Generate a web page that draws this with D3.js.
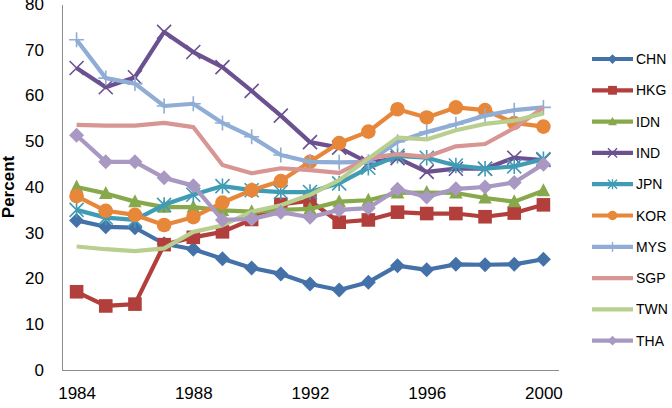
<!DOCTYPE html>
<html lang="en"><head>
<meta charset="utf-8">
<title>Percent by economy, 1984-2000</title>
<script type="text/javascript" src="https://d3js.org/d3.v7.min.js"></script>
<style type="text/css">
	body { margin: 0; background: #fff; }
	.axis path { fill: none; stroke: #8c8c8c; stroke-width: 1.5px; shape-rendering: crispEdges; }
	.axis line { display: none; }
	.axis text { font-family: "Liberation Sans", Arial, sans-serif; font-size: 17px; fill: #000; }
</style>
<script>
	const years = ["1984","1985","1986","1987","1988","1989","1990","1991","1992","1993","1994","1995","1996","1997","1998","1999","2000"];
	const yTicks = [0, 10, 20, 30, 40, 50, 60, 70, 80];
	const xTicks = ["1984", "1988", "1992", "1996", "2000"];

	const CHN = [32.7, 31.3, 31.1, 27.6, 26.4, 24.3, 22.3, 21.0, 18.8, 17.5, 19.2, 22.8, 21.9, 23.1, 23.0, 23.1, 24.2];
	const HKG = [17.1, 14.0, 14.4, 27.4, 29.0, 30.2, 32.9, 36.2, 37.0, 32.3, 32.8, 34.5, 34.2, 34.2, 33.5, 34.3, 36.1];
	const IDN = [40.0, 38.6, 36.8, 35.6, 35.6, 34.9, 34.6, 35.0, 35.2, 36.8, 37.1, 38.7, 38.8, 38.7, 37.6, 36.8, 39.2];
	const IND = [66.0, 61.8, 64.0, 73.9, 69.5, 66.2, 61.0, 55.6, 49.8, 48.6, 45.3, 46.3, 43.3, 44.0, 44.0, 46.4, 45.9];
	const JPN = [35.0, 33.3, 32.8, 36.1, 38.3, 40.2, 39.3, 38.9, 38.9, 40.8, 44.2, 46.8, 46.4, 44.7, 44.0, 44.5, 46.1];
	const KOR = [38.0, 34.8, 33.9, 31.7, 33.4, 36.6, 39.3, 41.3, 45.5, 49.6, 52.1, 57.0, 55.2, 57.4, 56.8, 54.0, 53.2];
	const MYS = [72.2, 63.8, 62.6, 57.7, 58.2, 54.0, 51.0, 47.0, 45.5, 45.4, 45.5, 49.9, 52.0, 53.7, 55.6, 56.8, 57.4];
	const SGP = [53.6, 53.4, 53.4, 54.0, 53.1, 44.8, 43.0, 44.1, 43.7, 43.1, 46.3, 47.2, 46.6, 48.9, 49.4, 52.9, 57.3];
	const TWN = [27.0, 26.4, 26.0, 26.6, 30.2, 31.6, 34.6, 36.0, 38.3, 41.5, 46.2, 50.8, 50.4, 52.4, 53.8, 54.5, 56.1];
	const THA = [51.3, 45.5, 45.5, 42.0, 40.3, 32.8, 33.0, 34.5, 33.4, 35.0, 35.4, 39.5, 37.8, 39.6, 40.0, 41.0, 45.0];

	const names = ["CHN", "HKG", "IDN", "IND", "JPN", "KOR", "MYS", "SGP", "TWN", "THA"];
	const values = [CHN, HKG, IDN, IND, JPN, KOR, MYS, SGP, TWN, THA];
	const colors = ["#4472a8", "#b23f3c", "#88a84c", "#6c5190", "#3f9cb4", "#e6873a", "#8fadd5", "#d79593", "#b8cf90", "#a898c2"];
	const markers = ["diamond", "square", "triangle", "cross", "star", "circle", "plus", "none", "none", "diamond"];

	const width = 672;
	const height = 408;
	const plot = {left: 62, right: 558, top: 4, bottom: 370};

	// marker path centred on 0,0; k scales it (legend uses smaller ones)
	const markerPath = (type, k) => {
		const p = d3.path();
		if (type === "diamond") {
			const r = 7.5 * k;
			p.moveTo(0, -r); p.lineTo(r, 0); p.lineTo(0, r); p.lineTo(-r, 0); p.closePath();
		} else if (type === "square") {
			const r = 6.8 * k;
			p.rect(-r, -r, 2 * r, 2 * r);
		} else if (type === "triangle") {
			const r = 7.5 * k;
			p.moveTo(0, -r); p.lineTo(r * 0.9, r * 0.75); p.lineTo(-r * 0.9, r * 0.75); p.closePath();
		} else if (type === "circle") {
			const r = 7.3 * k;
			p.moveTo(r, 0); p.arc(0, 0, r, 0, 2 * Math.PI);
		} else if (type === "cross") {
			const r = 7 * k;
			p.moveTo(-r, -r); p.lineTo(r, r); p.moveTo(r, -r); p.lineTo(-r, r);
		} else if (type === "star") {
			const r = 7 * k;
			p.moveTo(-r, -r); p.lineTo(r, r); p.moveTo(r, -r); p.lineTo(-r, r);
			p.moveTo(0, -r * 1.1); p.lineTo(0, r * 1.1);
		} else if (type === "plus") {
			const r = 7.5 * k;
			p.moveTo(-r, 0); p.lineTo(r, 0); p.moveTo(0, -r); p.lineTo(0, r);
		}
		return p.toString();
	};
	const isOpen = (type) => type === "cross" || type === "star" || type === "plus";

	const generateScales = () => {
		const xScale = d3.scalePoint()
						.domain(years)
						.range([plot.left, plot.right])
						.padding(0.5);
		const yScale = d3.scaleLinear()
						.domain([0, 80])
						.range([plot.bottom, plot.top]);
		return ({xScale, yScale});
	};

	const createAxes = (svg, scales) => {
		svg.append("g")
			.attr("class", "axis")
			.attr("transform", "translate(0," + plot.bottom + ")")
			.call(d3.axisBottom(scales.xScale).tickValues(xTicks).tickSize(0).tickSizeOuter(0).tickPadding(17));

		svg.append("g")
			.attr("class", "axis")
			.attr("transform", "translate(" + plot.left + ",0)")
			.call(d3.axisLeft(scales.yScale).tickValues(yTicks).tickSize(0).tickSizeOuter(0).tickPadding(18));

		svg.append("text")
			.attr("transform", "translate(14," + ((plot.top + plot.bottom) / 2) + ") rotate(-90)")
			.attr("text-anchor", "middle")
			.attr("font-family", "Liberation Sans, Arial, sans-serif")
			.attr("font-size", "17px")
			.attr("font-weight", "bold")
			.text("Percent");
	};

	const createSeries = (svg, scales) => {
		const line = d3.line()
						.x((d, i) => scales.xScale(years[i]))
						.y((d) => scales.yScale(d));

		names.forEach((name, s) => {
			const g = svg.append("g").attr("class", "series " + name);
			g.append("path")
				.datum(values[s])
				.attr("d", line)
				.attr("fill", "none")
				.attr("stroke", colors[s])
				.attr("stroke-width", 4.2)
				.attr("stroke-linejoin", "round");

			if (markers[s] === "none") return;
			g.selectAll("path.marker")
				.data(values[s])
				.enter()
				.append("path")
				.attr("class", "marker")
				.attr("transform", (d, i) => "translate(" + scales.xScale(years[i]) + "," + scales.yScale(d) + ")")
				.attr("d", markerPath(markers[s], 1))
				.attr("fill", isOpen(markers[s]) ? "none" : colors[s])
				.attr("stroke", colors[s])
				.attr("stroke-width", isOpen(markers[s]) ? 1.6 : 0);
		});
	};

	const createLegend = (svg) => {
		const legend = svg.append("g")
			.selectAll("g")
			.data(names)
			.enter()
			.append("g")
			.attr("transform", (d, i) => "translate(592," + (59 + i * 31.3) + ")");

		legend.append("line")
			.attr("x1", 0)
			.attr("x2", 41)
			.attr("stroke", (d, i) => colors[i])
			.attr("stroke-width", 4.2);

		legend.filter((d, i) => markers[i] !== "none")
			.append("path")
			.attr("transform", "translate(20.5,0)")
			.attr("d", (d, i) => markerPath(markers[names.indexOf(d)], 0.65))
			.attr("fill", (d) => isOpen(markers[names.indexOf(d)]) ? "none" : colors[names.indexOf(d)])
			.attr("stroke", (d) => colors[names.indexOf(d)])
			.attr("stroke-width", (d) => isOpen(markers[names.indexOf(d)]) ? 1.4 : 0);

		legend.append("text")
			.attr("x", 44)
			.attr("dy", "0.36em")
			.attr("font-family", "Liberation Sans, Arial, sans-serif")
			.attr("font-size", "14px")
			.attr("fill", "#000")
			.text((d) => d);
	};
</script>
</head>
<body>
<script type="text/javascript">
	const svg = d3.select("body")
		.append("svg")
		.attr("width", width)
		.attr("height", height);

	const scales = generateScales();
	createAxes(svg, scales);
	createSeries(svg, scales);
	createLegend(svg);
</script>
</body></html>
